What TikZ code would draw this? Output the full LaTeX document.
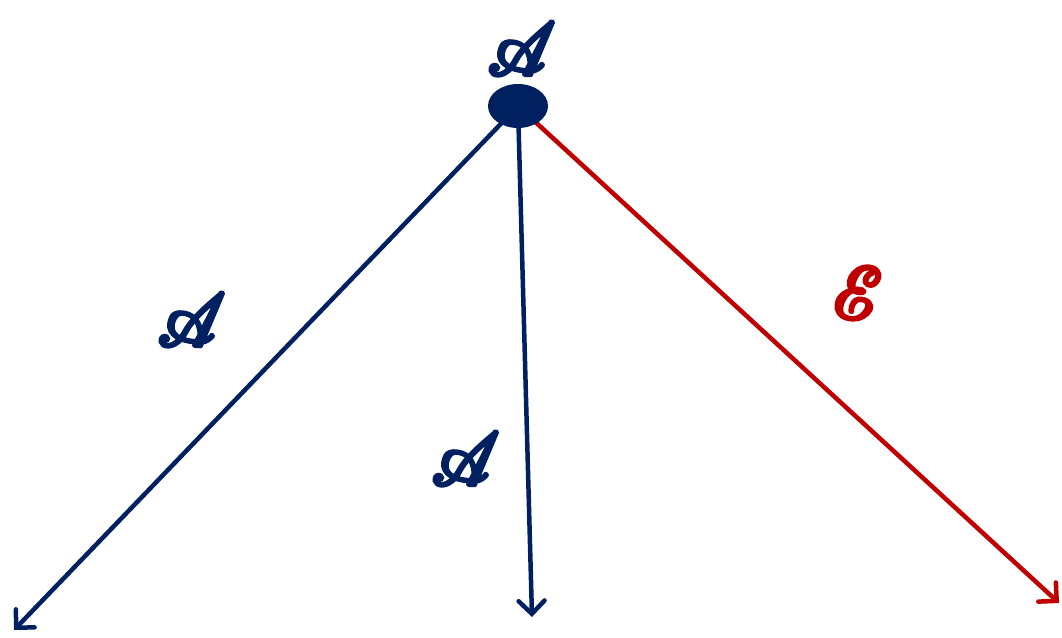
\documentclass[tikz,border=0pt]{standalone}
\usepackage{mathrsfs}
\usepackage{amsmath}
\usetikzlibrary{arrows.meta,shapes.geometric}
\definecolor{navy}{HTML}{002060}
\definecolor{dred}{HTML}{C00000}
\newcommand{\bscr}[1]{\special{pdf:literal direct 2 Tr 1.3 w}$\mathscr{#1}$\special{pdf:literal direct 0 Tr}}
\tikzset{
  conn/.style={line width=4.5pt, -{Straight Barb[length=13pt,width=26pt,line width=4.5pt,line cap=round]}},
  lbl/.style={inner sep=0pt, font=\fontsize{24.88}{30}\selectfont, scale=3.0, xslant=-0.2, transform shape},
}
\begin{document}
\begin{tikzpicture}[x=1pt,y=-1pt]
\useasboundingbox (0,0) rectangle (1062,637);
\coordinate (c) at (518,106);
\coordinate (l) at (14,630);
\coordinate (m) at (532,617);
\coordinate (r) at (1059,603);
\draw[conn, navy] (c) -- (l);
\draw[conn, navy] (c) -- (m);
\draw[conn, dred] (c) -- (r);
\node[ellipse, fill=navy, minimum width=60pt, minimum height=44pt, inner sep=0pt] (dot) at (c) {};
\node[lbl, text=navy] (ta) at (522,49) {\bscr{A}};
\node[lbl, text=navy] (la) at (192,320) {\bscr{A}};
\node[lbl, text=navy] (ma) at (466,459) {\bscr{A}};
\node[lbl, text=dred] (re) at (858,293) {\bscr{E}};
\end{tikzpicture}
\end{document}
